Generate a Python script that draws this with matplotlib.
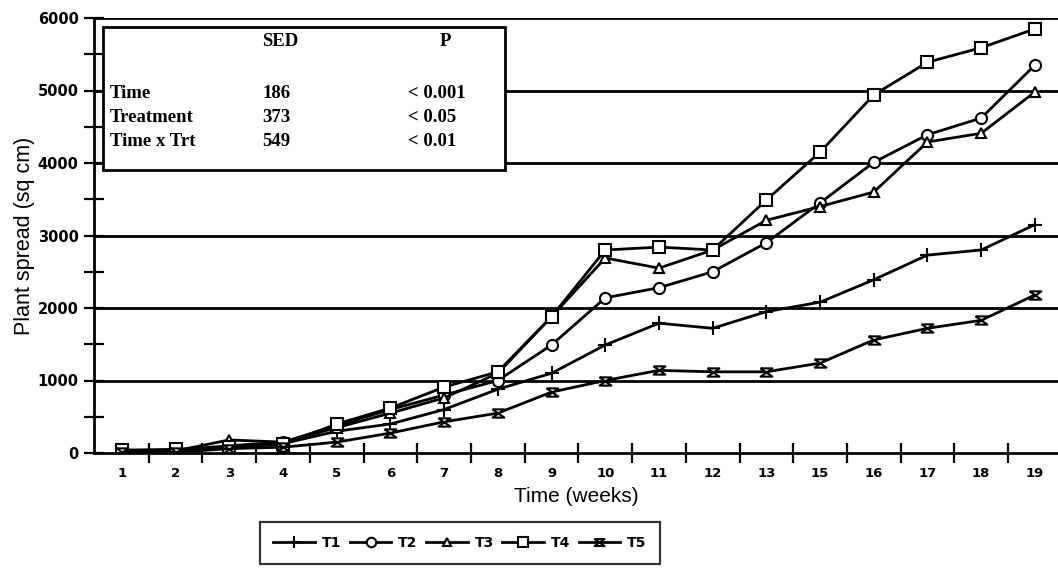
import matplotlib.pyplot as plt
import numpy as np
from matplotlib.ticker import FixedLocator, MultipleLocator

weeks = ["1", "2", "3", "4", "5", "6", "7", "8", "9", "10",
         "11", "12", "13", "15", "16", "17", "18", "19"]

t1 = [20, 30, 80, 130, 300, 400, 600, 880, 1100, 1490, 1790, 1720, 1950, 2080, 2390, 2730, 2800, 3150]
t2 = [30, 40, 100, 150, 380, 600, 800, 1000, 1490, 2140, 2280, 2500, 2900, 3450, 4010, 4390, 4620, 5350]
t3 = [20, 30, 180, 150, 350, 550, 760, 1100, 1880, 2690, 2550, 2800, 3210, 3400, 3600, 4290, 4410, 4980]
t4 = [40, 50, 80, 120, 400, 620, 910, 1120, 1880, 2800, 2840, 2800, 3490, 4150, 4940, 5390, 5590, 5850]
t5 = [10, 10, 60, 80, 150, 275, 430, 550, 840, 1000, 1140, 1120, 1120, 1240, 1560, 1720, 1830, 2180]

series = ["T1", "T2", "T3", "T4", "T5"]

table_rows = ["Time", "Treatment", "Time x Trt"]
table_sed = ["186", "373", "549"]
table_p = ["< 0.001", "< 0.05", "< 0.01"]

hourglass = [(-1, 0.7), (1, 0.7), (-1, -0.7), (1, -0.7), (-1, 0.7)]
markers = ["+", "o", "^", "s", hourglass]
msizes = [10, 8, 7.5, 8, 8.5]

W, H = 1058, 576
fig = plt.figure(figsize=(W / 100, H / 100), dpi=100)
ax = fig.add_axes([94 / W, 1 - 453 / H, 964 / W, 435 / H])

x = np.arange(len(weeks))
handles = []
for name, vals, m, ms in zip(series, [t1, t2, t3, t4, t5], markers, msizes):
    h, = ax.plot(x, vals, color="black", lw=2, marker=m, ms=ms,
                 mfc="white", mec="black", mew=1.5, label=name)
    handles.append(h)

ax.set_xlim(-0.52, 17.43)
ax.set_ylim(0, 6000)

for v in range(1000, 7000, 1000):
    ax.axhline(v, color="black", lw=2, zorder=0)

for s in ["top", "right"]:
    ax.spines[s].set_visible(False)
for s in ["left", "bottom"]:
    ax.spines[s].set_linewidth(2)

ax.xaxis.set_major_locator(FixedLocator(x))
ax.set_xticklabels(weeks, family="DejaVu Sans", weight="bold", size=9.5)
ax.xaxis.set_minor_locator(FixedLocator(x[:-1] + 0.5))
ax.tick_params(axis="x", which="major", length=0, pad=10)
ax.tick_params(axis="x", which="minor", direction="inout", length=14, width=1.6)

ax.yaxis.set_minor_locator(MultipleLocator(500))
ax.set_yticks(range(0, 7000, 1000))
ax.set_yticklabels([str(v) for v in range(0, 7000, 1000)],
                   family="DejaVu Sans", weight="bold", size=10.5)
ax.tick_params(axis="y", which="both", direction="inout", length=14, width=1.6, pad=4)

ax.set_xlabel("Time (weeks)", family="Liberation Sans", size=15, labelpad=5)
ax.set_ylabel("Plant spread (sq cm)", family="Liberation Sans", size=15.5, labelpad=2)

# statistics box
box = plt.Rectangle((103 / W, 1 - 170 / H), 402 / W, 143 / H, transform=fig.transFigure,
                    fill=True, facecolor="white", edgecolor="black", lw=2, zorder=5)
fig.add_artist(box)
serif = dict(family="Liberation Serif", weight="bold", size=13.5, va="center", zorder=6)
fig.text(262 / W, 1 - 42 / H, "SED", **serif)
fig.text(440 / W, 1 - 42 / H, "P", **serif)
for i, (r, s, p) in enumerate(zip(table_rows, table_sed, table_p)):
    y = 1 - (94 + i * 24) / H
    fig.text(110 / W, y, r, **serif)
    fig.text(262 / W, y, s, **serif)
    fig.text(408 / W, y, p, **serif)

leg = fig.legend(handles=handles, loc="center", bbox_to_anchor=(460 / W, 1 - 543 / H),
                 ncol=5, frameon=True, fancybox=False, edgecolor="black",
                 handlelength=3.0, handletextpad=0.5, columnspacing=0.6,
                 borderpad=1.0, markerscale=0.85,
                 prop=dict(family="DejaVu Sans", weight="bold", size=10))
leg.get_frame().set_linewidth(1.6)

fig.savefig("out.png", dpi=100)
